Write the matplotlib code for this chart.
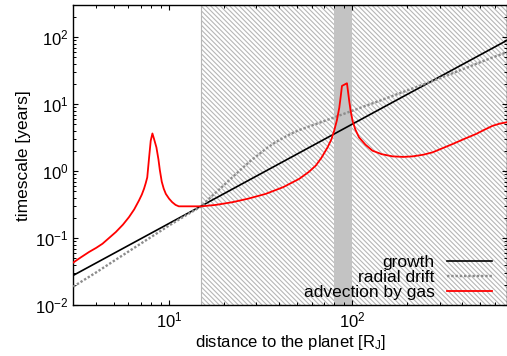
import matplotlib
matplotlib.use("Agg")
import matplotlib.pyplot as plt

plt.rcParams['font.family'] = ['Liberation Sans', 'DejaVu Sans']
plt.rcParams['mathtext.fontset'] = 'custom'
plt.rcParams['mathtext.rm'] = 'Liberation Sans'
plt.rcParams['mathtext.it'] = 'Liberation Sans:italic'
plt.rcParams['hatch.linewidth'] = 0.8

# growth timescale (straight power law in log-log)
r_growth = [3.0, 15.0, 100.0, 700.0]
t_growth = [0.028, 0.304, 5.05, 90.0]

# radial drift timescale
r_drift = [3.0, 4.0, 5.0, 6.5, 8.0, 10.0, 12.0, 15.0, 17.0, 19.0, 22.0, 25.0,
           28.0, 31.0, 34.0, 38.0, 42.0, 46.0, 51.0, 58.0, 65.0, 75.0, 85.0,
           100.0, 120.0, 150.0, 185.0, 223.0, 270.0, 330.0, 420.0, 550.0, 700.0]
t_drift = [0.019, 0.031, 0.046, 0.073, 0.105, 0.155, 0.21, 0.30, 0.42, 0.55,
           0.80, 1.1, 1.45, 1.8, 2.2, 2.7, 3.15, 3.6, 4.1, 4.65, 5.2, 6.0, 6.8,
           8.0, 9.6, 12.0, 14.9, 18.0, 21.8, 27.0, 35.0, 47.0, 60.0]

# advection by gas timescale
r_adv = [3.0, 3.3, 3.66, 4.0, 4.33, 4.7, 5.12, 5.6, 6.04, 6.45, 6.85, 7.1,
         7.3, 7.45, 7.6, 7.78, 7.94, 8.11, 8.28, 8.53, 8.75, 8.9, 9.12, 9.35,
         9.6, 10.0, 10.4, 10.85, 11.3, 15.0, 18.0, 22.2, 27.0, 33.7, 42.0,
         51.3, 58.0, 63.3, 68.0, 73.3, 77.0, 79.7, 82.5, 85.0, 86.5, 87.9,
         93.6, 95.0, 96.3, 98.0, 100.4, 104.0, 109.0, 118.0, 129.0, 145.0,
         166.0, 190.0, 214.0, 245.0, 275.0, 310.0, 353.0, 410.0, 474.0, 530.0,
         585.0, 640.0, 700.0]
t_adv = [0.0435, 0.052, 0.0626, 0.072, 0.083, 0.101, 0.124, 0.160, 0.207,
         0.27, 0.367, 0.45, 0.55, 0.66, 0.81, 1.61, 2.86, 3.67, 3.03, 2.27,
         1.5, 1.05, 0.70, 0.55, 0.46, 0.39, 0.346, 0.315, 0.30, 0.30, 0.315,
         0.346, 0.39, 0.46, 0.58, 0.77, 0.98, 1.22, 1.6, 2.27, 3.0, 4.03, 5.8,
         8.9, 13.0, 18.8, 20.6, 15.0, 11.2, 8.0, 5.67, 4.2, 3.2, 2.5, 2.03,
         1.8, 1.67, 1.64, 1.67, 1.77, 1.92, 2.2, 2.55, 3.05, 3.6, 4.2, 4.78,
         5.15, 5.4]

# shaded regions
hatch_region = (15.0, 1000.0)
band_region = (80.0, 100.0)

fig = plt.figure(figsize=(5.07, 3.56), dpi=100)
ax = fig.add_axes([0.1446, 0.1424, 0.8554, 0.8427])

ax.axvspan(*hatch_region, facecolor='none', edgecolor='#b6b6b6',
           hatch='\\\\\\\\\\\\\\', linewidth=0.8, zorder=0)
ax.axvspan(*band_region, facecolor='#c3c3c3', edgecolor='none', zorder=1)

ax.plot(r_growth, t_growth, color='black', lw=1.2, label='growth', zorder=3)
ax.plot(r_drift, t_drift, color='#8c8c8c', lw=1.7, ls=(0, (1, 0.8)),
        label='radial drift', zorder=3)
ax.plot(r_adv, t_adv, color='#ff0000', lw=1.3, label='advection by gas', zorder=4)

ax.set_xscale('log')
ax.set_yscale('log')
ax.set_xlim(3, 700)
ax.set_ylim(0.01, 300)

ax.tick_params(which='both', direction='in', top=True, right=True,
               labelsize=12, colors='black')
ax.tick_params(which='major', length=3.5, width=0.8)
ax.tick_params(which='minor', length=2.0, width=0.7)
for s in ax.spines.values():
    s.set_linewidth(1.0)

ax.set_xlabel(r'distance to the planet [R$_\mathrm{J}$]', fontsize=12, labelpad=2)
ax.set_ylabel('timescale [years]', fontsize=12.5, labelpad=3)

leg = ax.legend(loc='lower right', bbox_to_anchor=(0.977, 0.0),
                frameon=False, markerfirst=False,
                fontsize=12.5, handlelength=2.6, handletextpad=0.7,
                labelspacing=0.0, borderaxespad=0.1, borderpad=0.2)
for t in leg.get_texts():
    t.set_ha('right')

fig.savefig('out.png', dpi=100)
